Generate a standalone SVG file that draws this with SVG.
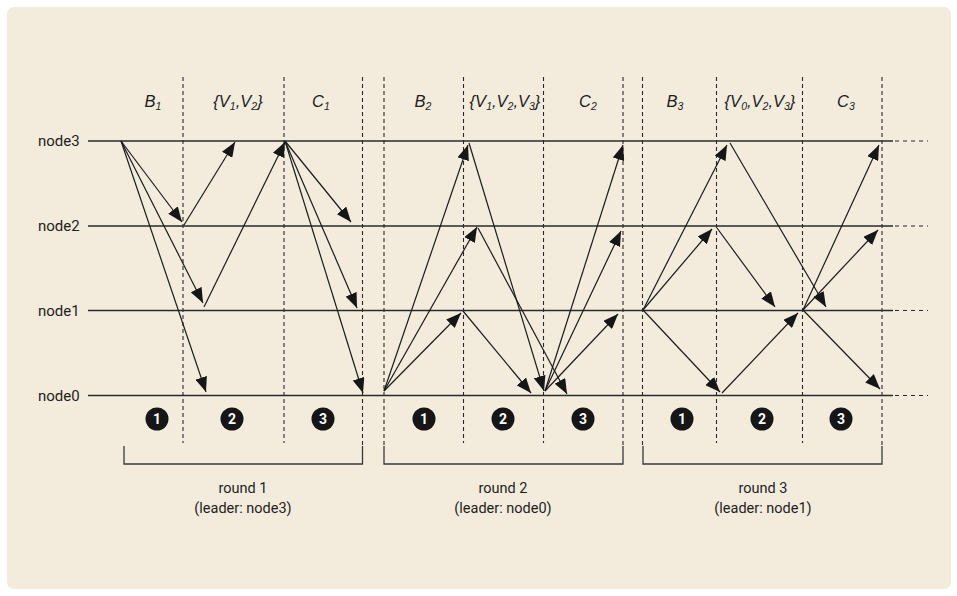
<svg xmlns="http://www.w3.org/2000/svg" width="957" height="596" viewBox="0 0 957 596">
<defs>
<marker id="ah" markerUnits="userSpaceOnUse" markerWidth="16" markerHeight="12" refX="15" refY="6" orient="auto">
<path d="M0,0 L15,6 L0,12 z" fill="#161616"/>
</marker>
<style>
.bg{fill:#f3ebdc;}
.tl{stroke:#2a2a2a;stroke-width:1.4;fill:none;}
.tlx{stroke:#2a2a2a;stroke-width:1.2;stroke-dasharray:4 4;fill:none;}
.vd{stroke:#2a2a2a;stroke-width:1.1;stroke-dasharray:4 3;fill:none;}
.br{stroke:#3a3a3a;stroke-width:1.3;fill:none;}
.msg{stroke:#1c1c1c;stroke-width:1.2;fill:none;marker-end:url(#ah);}
.nl{font-family:Roboto,"Liberation Sans",sans-serif;font-size:15px;fill:#1e1e1e;}
.ph{font-family:"Liberation Sans",Arial,sans-serif;font-style:italic;font-size:16.5px;fill:#1e1e1e;text-anchor:middle;}
.sub{font-size:10.5px;}
.rl{font-family:Roboto,"Liberation Sans",sans-serif;font-size:14.5px;fill:#1e1e1e;text-anchor:middle;}
.cc{fill:#161616;}
.cn{font-family:Roboto,"Liberation Sans",sans-serif;font-weight:bold;font-size:14px;fill:#ffffff;text-anchor:middle;}
</style>
</defs>
<rect class="bg" x="7" y="7" width="944" height="582" rx="7"/>

<g id="node3"><text class="nl" x="38" y="146">node3</text><line class="tl" x1="88" y1="141" x2="893" y2="141"/><line class="tlx" x1="895" y1="141" x2="928" y2="141"/></g>
<g id="node2"><text class="nl" x="38" y="231">node2</text><line class="tl" x1="88" y1="226" x2="893" y2="226"/><line class="tlx" x1="895" y1="226" x2="928" y2="226"/></g>
<g id="node1"><text class="nl" x="38" y="316">node1</text><line class="tl" x1="88" y1="310.5" x2="893" y2="310.5"/><line class="tlx" x1="895" y1="310.5" x2="928" y2="310.5"/></g>
<g id="node0"><text class="nl" x="38" y="401">node0</text><line class="tl" x1="88" y1="395.5" x2="893" y2="395.5"/><line class="tlx" x1="895" y1="395.5" x2="928" y2="395.5"/></g>

<g id="phase-dividers">
<line class="vd" x1="183" y1="77" x2="183" y2="443"/>
<line class="vd" x1="284" y1="77" x2="284" y2="443"/>
<line class="vd" x1="362.5" y1="77" x2="362.5" y2="446"/>
<line class="vd" x1="384" y1="77" x2="384" y2="446"/>
<line class="vd" x1="463.5" y1="77" x2="463.5" y2="443"/>
<line class="vd" x1="543.5" y1="77" x2="543.5" y2="443"/>
<line class="vd" x1="623" y1="77" x2="623" y2="446"/>
<line class="vd" x1="642.5" y1="77" x2="642.5" y2="446"/>
<line class="vd" x1="716.5" y1="77" x2="716.5" y2="443"/>
<line class="vd" x1="802.5" y1="77" x2="802.5" y2="443"/>
<line class="vd" x1="882" y1="77" x2="882" y2="446"/>
</g>

<g id="phase-labels">
<text class="ph" x="153" y="107">B<tspan class="sub" dy="3">1</tspan></text>
<text class="ph" x="238" y="107">{V<tspan class="sub" dy="3">1</tspan><tspan dy="-3">,V</tspan><tspan class="sub" dy="3">2</tspan><tspan dy="-3">}</tspan></text>
<text class="ph" x="321" y="107">C<tspan class="sub" dy="3">1</tspan></text>
<text class="ph" x="423" y="107">B<tspan class="sub" dy="3">2</tspan></text>
<text class="ph" x="505" y="107">{V<tspan class="sub" dy="3">1</tspan><tspan dy="-3">,V</tspan><tspan class="sub" dy="3">2</tspan><tspan dy="-3">,V</tspan><tspan class="sub" dy="3">3</tspan><tspan dy="-3">}</tspan></text>
<text class="ph" x="588" y="107">C<tspan class="sub" dy="3">2</tspan></text>
<text class="ph" x="675" y="107">B<tspan class="sub" dy="3">3</tspan></text>
<text class="ph" x="760" y="107">{V<tspan class="sub" dy="3">0</tspan><tspan dy="-3">,V</tspan><tspan class="sub" dy="3">2</tspan><tspan dy="-3">,V</tspan><tspan class="sub" dy="3">3</tspan><tspan dy="-3">}</tspan></text>
<text class="ph" x="846" y="107">C<tspan class="sub" dy="3">3</tspan></text>
</g>

<g id="connectors">
<line class="msg" x1="121" y1="141" x2="182" y2="222"/>
<line class="msg" x1="121" y1="141" x2="203" y2="303"/>
<line class="msg" x1="121" y1="141" x2="206" y2="392"/>
<line class="msg" x1="184" y1="225" x2="235" y2="142"/>
<line class="msg" x1="204" y1="307" x2="285" y2="142"/>
<line class="msg" x1="285" y1="141" x2="351" y2="222"/>
<line class="msg" x1="285" y1="141" x2="357" y2="308"/>
<line class="msg" x1="285" y1="141" x2="363" y2="393"/>

<line class="msg" x1="384" y1="391" x2="468" y2="145"/>
<line class="msg" x1="384" y1="391" x2="477" y2="227"/>
<line class="msg" x1="384" y1="391" x2="461" y2="313"/>
<line class="msg" x1="469" y1="143" x2="544" y2="391"/>
<line class="msg" x1="478" y1="228" x2="567" y2="394"/>
<line class="msg" x1="463" y1="311" x2="531" y2="393"/>
<line class="msg" x1="545" y1="391" x2="623" y2="145"/>
<line class="msg" x1="545" y1="391" x2="621" y2="231"/>
<line class="msg" x1="545" y1="391" x2="618" y2="314"/>

<line class="msg" x1="643" y1="310" x2="727" y2="145"/>
<line class="msg" x1="643" y1="310" x2="712" y2="229"/>
<line class="msg" x1="643" y1="310" x2="720" y2="392"/>
<line class="msg" x1="730" y1="143" x2="826" y2="307"/>
<line class="msg" x1="717" y1="228" x2="775" y2="307"/>
<line class="msg" x1="722" y1="393" x2="798" y2="313"/>
<line class="msg" x1="803" y1="310" x2="879" y2="145"/>
<line class="msg" x1="803" y1="310" x2="878" y2="230"/>
<line class="msg" x1="803" y1="310" x2="880" y2="389"/>
</g>

<g id="steps">
<circle class="cc" cx="157" cy="419" r="11.5"/><text class="cn" x="157" y="424">1</text>
<circle class="cc" cx="232" cy="419" r="11.5"/><text class="cn" x="232" y="424">2</text>
<circle class="cc" cx="323" cy="419" r="11.5"/><text class="cn" x="323" y="424">3</text>
<circle class="cc" cx="424" cy="419" r="11.5"/><text class="cn" x="424" y="424">1</text>
<circle class="cc" cx="503" cy="419" r="11.5"/><text class="cn" x="503" y="424">2</text>
<circle class="cc" cx="583" cy="419" r="11.5"/><text class="cn" x="583" y="424">3</text>
<circle class="cc" cx="682" cy="419" r="11.5"/><text class="cn" x="682" y="424">1</text>
<circle class="cc" cx="762" cy="419" r="11.5"/><text class="cn" x="762" y="424">2</text>
<circle class="cc" cx="841" cy="419" r="11.5"/><text class="cn" x="841" y="424">3</text>
</g>

<g id="round1">
<path class="br" d="M124,446 V464 H362.5 V446"/>
<text class="rl" x="243" y="493">round 1</text>
<text class="rl" x="243" y="513">(leader: node3)</text>
</g>
<g id="round2">
<path class="br" d="M384,446 V464 H623 V446"/>
<text class="rl" x="503" y="493">round 2</text>
<text class="rl" x="503" y="513">(leader: node0)</text>
</g>
<g id="round3">
<path class="br" d="M643,446 V464 H882 V446"/>
<text class="rl" x="763" y="493">round 3</text>
<text class="rl" x="763" y="513">(leader: node1)</text>
</g>
</svg>
